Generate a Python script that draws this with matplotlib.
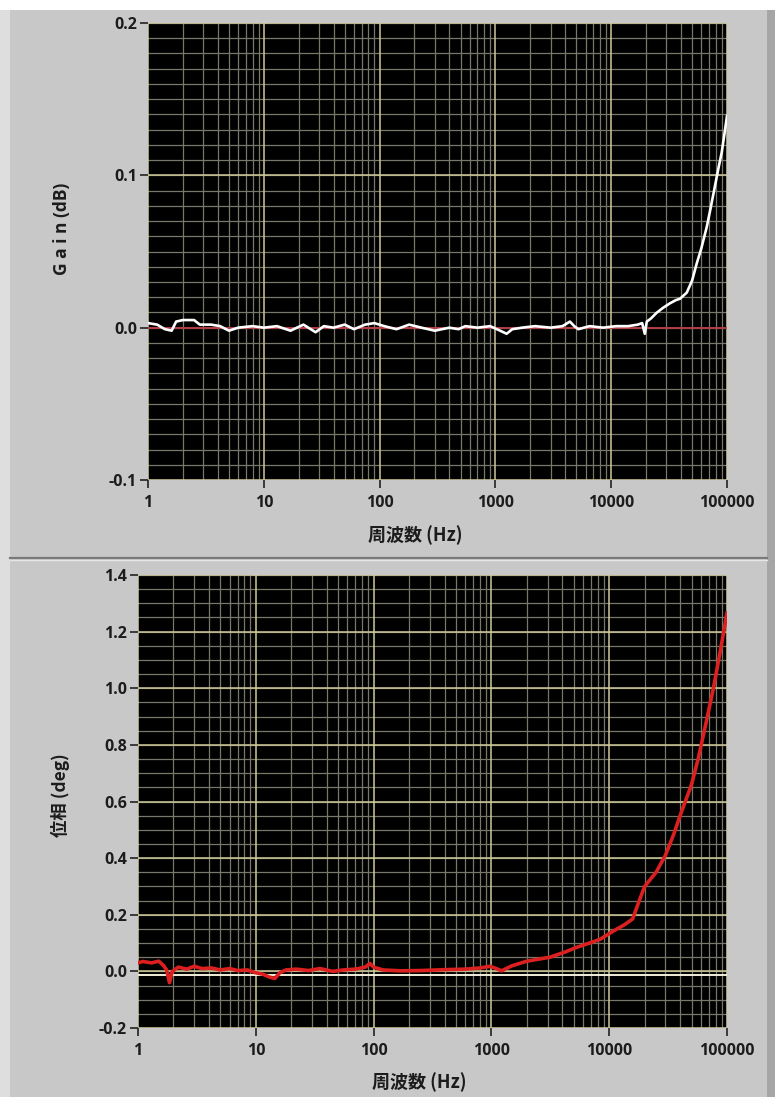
import matplotlib
matplotlib.use("Agg")
import matplotlib.pyplot as plt
from matplotlib.patches import Rectangle
from matplotlib.lines import Line2D
from matplotlib.ticker import FixedLocator, NullFormatter, FixedFormatter

# --- data ---
gain_freq = [1.0, 1.2, 1.4, 1.6, 1.75, 2.0, 2.5, 2.8, 3.5, 4.2,
             5.0, 6.0, 8.0, 10, 13, 17, 22, 28, 33, 40,
             50, 60, 75, 90, 110, 140, 180, 230, 300, 400,
             480, 550, 700, 900, 1100, 1250, 1400, 1700, 2200, 3000,
             3800, 4400, 4800, 5200, 6500, 8500, 11000, 14000, 17000, 18500,
             19500, 20300, 22000, 24700, 28000, 32200, 36000, 39300, 44900, 50000,
             54700, 60000, 66800, 72000, 78700, 84000, 90000, 95000, 100000]
gain_db = [0.003, 0.002, -0.001, -0.002, 0.004, 0.005, 0.005, 0.002, 0.002, 0.001,
           -0.002, 0.0, 0.001, 0.0, 0.001, -0.002, 0.002, -0.003, 0.001, 0.0,
           0.002, -0.001, 0.002, 0.003, 0.001, -0.001, 0.002, 0.0, -0.002, 0.0,
           -0.001, 0.001, 0.0, 0.001, -0.002, -0.004, -0.001, 0.0, 0.001, 0.0,
           0.001, 0.004, 0.001, -0.001, 0.001, 0.0, 0.001, 0.001, 0.002, 0.003,
           -0.004, 0.004, 0.006, 0.0098, 0.013, 0.016, 0.018, 0.019, 0.023, 0.031,
           0.042, 0.052, 0.066, 0.078, 0.093, 0.104, 0.115, 0.127, 0.139]

phase_freq = [1.0, 1.1, 1.3, 1.5, 1.65, 1.75, 1.85, 1.95, 2.2, 2.6,
              3.0, 3.5, 4.2, 5.0, 6.0, 7.0, 8.5, 10, 11.5, 13,
              14.5, 16, 18, 22, 28, 35, 45, 55, 70, 85,
              93, 100, 120, 170, 250, 400, 600, 800, 973, 1100,
              1220, 1500, 2000, 3140, 4200, 5300, 6800, 8350, 10700, 13500,
              15800, 18000, 20000, 25000, 30000, 35000, 40000, 50000, 57100, 65000,
              76500, 85000, 92000, 100000]
phase_deg = [0.03, 0.035, 0.03, 0.036, 0.02, 0.005, -0.04, 0.0, 0.015, 0.008,
             0.018, 0.01, 0.012, 0.005, 0.01, 0.003, 0.005, -0.005, -0.01, -0.02,
             -0.025, -0.005, 0.005, 0.008, 0.003, 0.01, 0.0, 0.005, 0.008, 0.015,
             0.028, 0.015, 0.005, 0.002, 0.003, 0.006, 0.008, 0.012, 0.018, 0.01,
             0.002, 0.02, 0.036, 0.05, 0.068, 0.085, 0.1, 0.113, 0.141, 0.165,
             0.185, 0.25, 0.3, 0.35, 0.41, 0.48, 0.55, 0.66, 0.753, 0.86,
             0.998, 1.1, 1.18, 1.266]

x_ticks = [1, 10, 100, 1000, 10000, 100000]
x_ticklabels = ["1", "10", "100", "1000", "10000", "100000"]
gain_ticks = [-0.1, 0.0, 0.1, 0.2]
phase_ticks = [-0.2, 0.0, 0.2, 0.4, 0.6, 0.8, 1.0, 1.2, 1.4]

W, H = 775, 1097
BG = "#c8c8c8"
MINOR = "#77776a"
MAJOR = "#cfca98"
TEXT = "#1c1c1c"
TICK_FONT = dict(family=["Open Sans", "DejaVu Sans"], size=11.5, weight="bold")
CJK = ["Noto Sans CJK JP", "DejaVu Sans"]


def px_axes(fig, x0, y0, x1, y1):
    """axes from pixel box (top-left origin)"""
    return fig.add_axes([x0 / W, 1 - y1 / H, (x1 - x0) / W, (y1 - y0) / H])


def style_panel(ax, ymin, ymax, yticks, ystep_minor):
    ax.set_facecolor("black")
    ax.set_xscale("log")
    ax.set_xlim(1, 100000)
    ax.set_ylim(ymin, ymax)

    # grid lines by hand so minor/major colours match the LabVIEW look
    for dec in range(5):
        for m in range(2, 10):
            ax.axvline(m * 10 ** dec, color=MINOR, lw=0.9, zorder=1)
    for d in x_ticks:
        ax.axvline(d, color=MAJOR, lw=1.1, zorder=1.5)
    n = int(round((ymax - ymin) / ystep_minor))
    for i in range(n + 1):
        ax.axhline(ymin + i * ystep_minor, color=MINOR, lw=0.9, zorder=1)
    for t in yticks:
        ax.axhline(t, color=MAJOR, lw=1.1, zorder=1.5)

    ax.xaxis.set_major_locator(FixedLocator(x_ticks))
    ax.xaxis.set_major_formatter(FixedFormatter(x_ticklabels))
    ax.xaxis.set_minor_locator(FixedLocator([]))
    ax.xaxis.set_minor_formatter(NullFormatter())
    ax.set_yticks(yticks)
    ax.set_yticklabels([f"{t:.1f}" for t in yticks])
    ax.tick_params(axis="both", direction="out", length=6, width=1.2,
                   color="#222222", labelcolor=TEXT)
    ax.tick_params(axis="x", pad=5)
    ax.tick_params(axis="y", pad=2)
    for lab in ax.get_xticklabels() + ax.get_yticklabels():
        lab.set_fontproperties(TICK_FONT)
    for s in ax.spines.values():
        s.set_visible(False)


fig = plt.figure(figsize=(W / 100, H / 100), dpi=100, facecolor=BG)

# frame decorations
fig.patches.append(Rectangle((0, 1 - 10 / H), 1, 10 / H, transform=fig.transFigure,
                             facecolor="white", edgecolor="none", zorder=0))
fig.patches.append(Rectangle((0, 0), 10 / W, 1 - 10 / H, transform=fig.transFigure,
                             facecolor="#dedede", edgecolor="none", zorder=0))
fig.patches.append(Rectangle((767 / W, 0), 8 / W, 1 - 10 / H, transform=fig.transFigure,
                             facecolor="#a6a6a6", edgecolor="none", zorder=0))
fig.lines.append(Line2D([10 / W, 767 / W], [1 - 558 / H] * 2, transform=fig.transFigure,
                        color="#7a7a7a", lw=1.6))
fig.lines.append(Line2D([10 / W, 767 / W], [1 - 560 / H] * 2, transform=fig.transFigure,
                        color="#e6e6e6", lw=1.0))

# --- top: gain ---
ax1 = px_axes(fig, 148, 23, 727, 480)
style_panel(ax1, -0.1, 0.2, gain_ticks, 0.01)
ax1.axhline(0.0, color="#b3263a", lw=1.2, zorder=2)
ax1.plot(gain_freq, gain_db, color="white", lw=1.9, zorder=3)
ax1.set_xlabel("周波数 (Hz)", family=CJK, size=13, weight="bold", color=TEXT)
ax1.xaxis.set_label_coords(0.461, -0.120)
ax1.xaxis.label.set_va("center")
ax1.set_ylabel("G a i n (dB)", family=["Open Sans", "DejaVu Sans"], size=12.5,
               weight="bold", color=TEXT)
ax1.yaxis.set_label_coords(-0.1485, 0.55)
ax1.yaxis.label.set_va("center")

# --- bottom: phase ---
ax2 = px_axes(fig, 138, 575, 727, 1028)
style_panel(ax2, -0.2, 1.4, phase_ticks, 0.05)
ax2.axhline(-0.014, color="#f2f0dc", lw=1.4, zorder=2)
ax2.plot(phase_freq, phase_deg, color="#dc1f1f", lw=2.6, zorder=3)
ax2.set_xlabel("周波数 (Hz)", family=CJK, size=13, weight="bold", color=TEXT)
ax2.xaxis.set_label_coords(0.477, -0.119)
ax2.xaxis.label.set_va("center")
ax2.set_ylabel("位相 (deg)", family=CJK, size=12.5, weight="bold", color=TEXT)
ax2.yaxis.set_label_coords(-0.132, 0.514)
ax2.yaxis.label.set_va("center")

fig.savefig("out.png", dpi=100, facecolor=BG)
